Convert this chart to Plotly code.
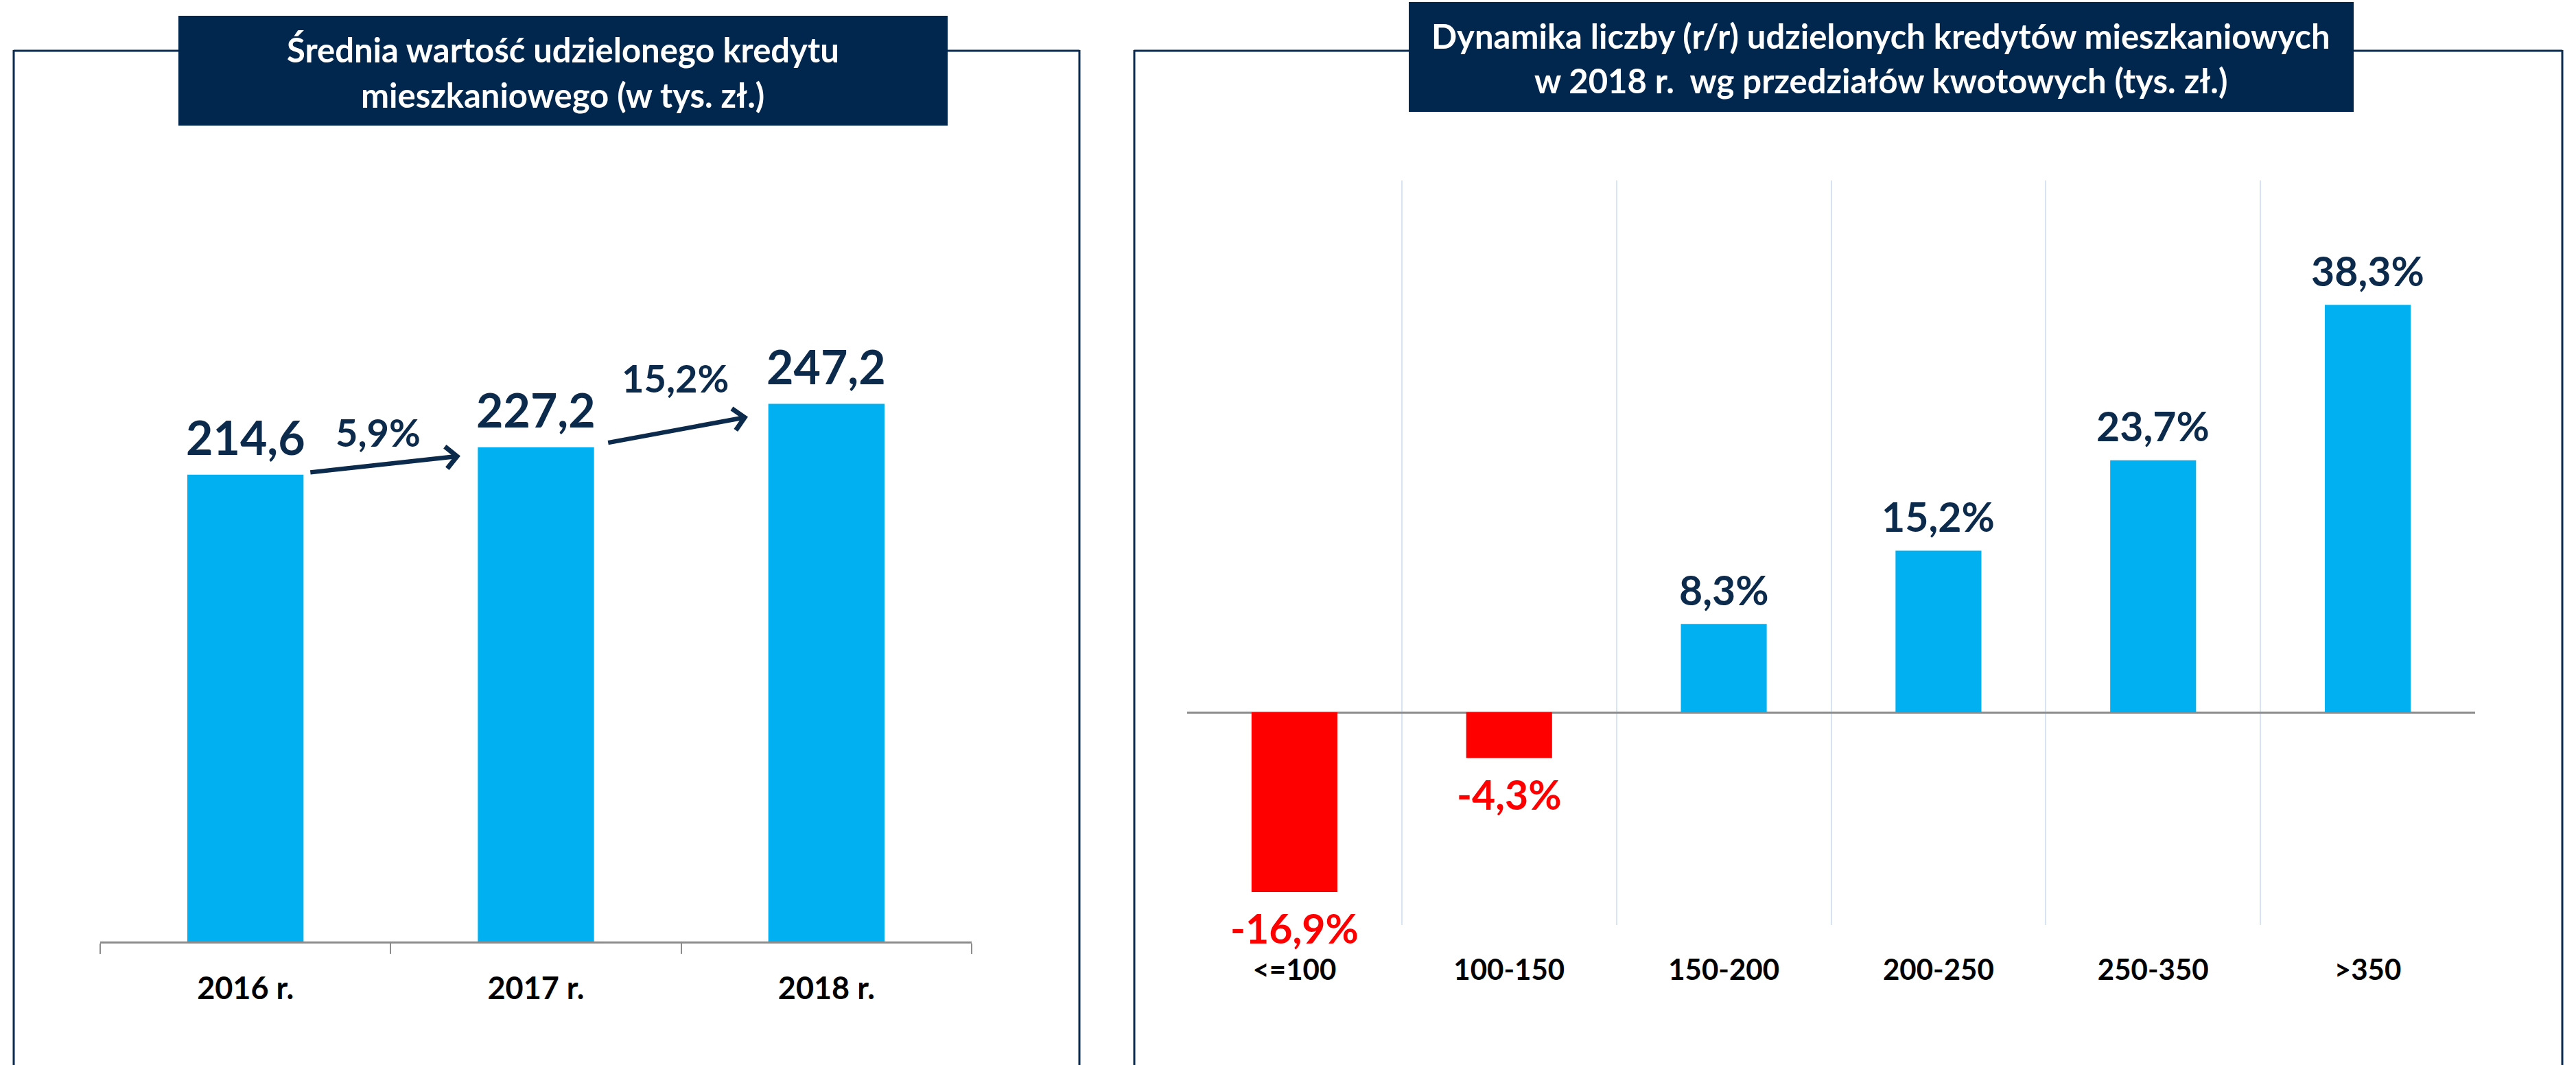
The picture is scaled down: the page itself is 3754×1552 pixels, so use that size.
import plotly.graph_objects as go

# ---------------- data ----------------
years = ["2016 r.", "2017 r.", "2018 r."]
avg_credit = [214.6, 227.2, 247.2]
growth_pct = [5.9, 15.2]

buckets = ["<=100", "100-150", "150-200", "200-250", "250-350", ">350"]
dynamics = [-16.9, -4.3, 8.3, 15.2, 23.7, 38.3]

title_left = ["Średnia wartość udzielonego kredytu", "mieszkaniowego (w tys. zł.)"]
title_right = ["Dynamika liczby (r/r) udzielonych kredytów mieszkaniowych",
               "w 2018 r.  wg przedziałów kwotowych (tys. zł.)"]

# ---------------- style ----------------
W, H = 3754, 1552
FONT = "Lato"
NAVY = "#02274F"
LABEL = "#0C2A4C"
BLUE = "#00B0F0"
RED = "#FF0000"
AXIS = "#8C8C8C"
GRID = "#D9E4F2"


def px_x(px):
    return px / W


def px_y(py):
    return 1 - py / H


def fmt(v, pct=False):
    s = f"{v:.1f}".replace(".", ",")
    return s + "%" if pct else s


fig = go.Figure()

# left chart bars
fig.add_trace(go.Bar(
    x=years, y=avg_credit, width=0.4, marker=dict(color=BLUE, line=dict(width=0)),
    xaxis="x", yaxis="y", hoverinfo="skip", showlegend=False))

# right chart bars
fig.add_trace(go.Bar(
    x=buckets, y=dynamics, width=0.4,
    marker=dict(color=[RED if v < 0 else BLUE for v in dynamics], line=dict(width=0)),
    xaxis="x2", yaxis="y2", hoverinfo="skip", showlegend=False))

annotations = []

# value labels, left
for cat, v in zip(years, avg_credit):
    annotations.append(dict(
        x=cat, y=v, xref="x", yref="y", text=fmt(v), showarrow=False,
        yanchor="middle", yshift=55,
        font=dict(family=FONT, size=68, color=LABEL, weight="bold")))

# growth arrows + labels, left
arrow_geom = [  # (tail dx, tail dy, head dx, head dy, label dx, label yshift)
    (0.22, 1.0, 0.74, -4.0, 0.456, 22),
    (0.245, 2.0, 0.73, -6.0, 0.48, 38),
]
for i, g in enumerate(growth_pct):
    tdx, tdy, hdx, hdy, ldx, lys = arrow_geom[i]
    annotations.append(dict(
        x=i + hdx, y=avg_credit[i + 1] + hdy, ax=i + tdx, ay=avg_credit[i] + tdy,
        xref="x", yref="y", axref="x", ayref="y", text="", showarrow=True,
        arrowhead=4, arrowsize=0.95, arrowwidth=6.5, arrowcolor=LABEL,
        standoff=0, startstandoff=0))
    annotations.append(dict(
        x=i + ldx, y=avg_credit[i + 1], xref="x", yref="y", text=fmt(g, True),
        showarrow=False, yanchor="middle", yshift=lys,
        font=dict(family=FONT, size=56, color=LABEL, weight="bold")))

# value labels, right
for cat, v in zip(buckets, dynamics):
    annotations.append(dict(
        x=cat, y=v, xref="x2", yref="y2", text=fmt(v, True), showarrow=False,
        yanchor="middle", yshift=50 if v >= 0 else -53,
        font=dict(family=FONT, size=59, color=(LABEL if v >= 0 else RED), weight="bold")))

# title texts
for txt, cy in zip(title_left, [72, 138]):
    annotations.append(dict(
        x=px_x(820), y=px_y(cy), xref="paper", yref="paper", text=txt, showarrow=False,
        xanchor="center", yanchor="middle",
        font=dict(family=FONT, size=49, color="white", weight="bold")))
for txt, cy in zip(title_right, [52, 117]):
    annotations.append(dict(
        x=px_x(2741), y=px_y(cy), xref="paper", yref="paper", text=txt, showarrow=False,
        xanchor="center", yanchor="middle",
        font=dict(family=FONT, size=49, color="white", weight="bold")))

shapes = []
FRAME = "#0B2A50"
for x0, x1 in [(20, 1573), (1653, 3734)]:
    shapes.append(dict(type="line", xref="paper", yref="paper",
                       x0=px_x(x0), x1=px_x(x1), y0=px_y(74), y1=px_y(74),
                       line=dict(color=FRAME, width=3)))
    for xx in (x0, x1):
        shapes.append(dict(type="line", xref="paper", yref="paper",
                           x0=px_x(xx), x1=px_x(xx), y0=px_y(73), y1=px_y(1560),
                           line=dict(color=FRAME, width=3)))
# title boxes
shapes.append(dict(type="rect", xref="paper", yref="paper",
                   x0=px_x(260), x1=px_x(1381), y0=px_y(183), y1=px_y(23),
                   fillcolor=NAVY, line=dict(width=0), layer="above"))
shapes.append(dict(type="rect", xref="paper", yref="paper",
                   x0=px_x(2053), x1=px_x(3430), y0=px_y(163), y1=px_y(3),
                   fillcolor=NAVY, line=dict(width=0), layer="above"))

fig.update_layout(
    width=W, height=H,
    margin=dict(l=0, r=0, t=0, b=0),
    paper_bgcolor="white", plot_bgcolor="rgba(0,0,0,0)",
    showlegend=False, barmode="relative",
    font=dict(family=FONT),
    annotations=annotations, shapes=shapes,
    xaxis=dict(domain=[px_x(146), px_x(1416)], anchor="y", type="category",
               showgrid=False, zeroline=False, showline=True, linecolor=AXIS, linewidth=3,
               ticks="outside", tickson="boundaries", ticklen=15, tickwidth=2, tickcolor=AXIS,
               ticklabelstandoff=27,
               tickfont=dict(family=FONT, size=45, color="black", weight="bold")),
    yaxis=dict(domain=[px_y(1372), px_y(421)], anchor="x", range=[0, 300],
               showgrid=False, zeroline=False, showticklabels=False, showline=False),
    xaxis2=dict(domain=[px_x(1730), px_x(3607)], anchor="y2", type="category",
                showgrid=True, gridcolor=GRID, gridwidth=2, tickson="boundaries",
                zeroline=False, showline=False, ticks="", ticklabelstandoff=37,
                tickfont=dict(family=FONT, size=42, color="black", weight="bold")),
    yaxis2=dict(domain=[px_y(1348), px_y(263)], anchor="x2", range=[-20, 50],
                showgrid=False, zeroline=True, zerolinecolor=AXIS, zerolinewidth=3,
                showticklabels=False, showline=False),
)

fig.write_html("out.html",
               config={"displayModeBar": False},
               post_script="document.body.style.margin='0px';document.body.style.overflow='hidden';")
